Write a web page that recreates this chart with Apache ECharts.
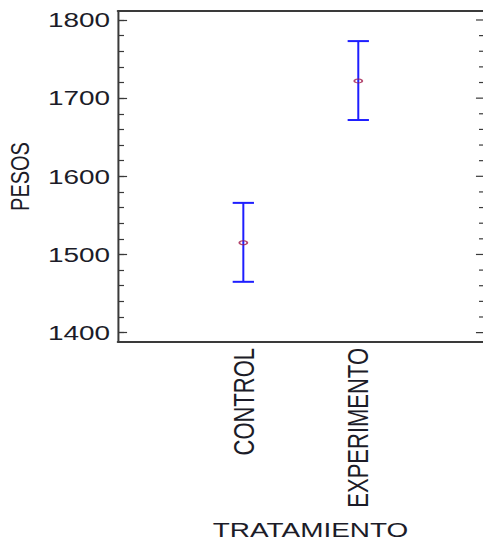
<!DOCTYPE html>
<html><head><meta charset="utf-8">
<script src="https://cdn.jsdelivr.net/npm/echarts@6/dist/echarts.min.js"></script>
<style>
html,body{margin:0;padding:0;background:#fff;overflow:hidden;width:483px;height:544px}
#c{width:363px;height:544px;transform:scaleX(1.3306);transform-origin:0 0}
</style></head><body><div id="c"></div>
<script>
const categories = ['CONTROL', 'EXPERIMENTO'];
const means = [1515, 1722];
const lower = [1465, 1672];
const upper = [1566, 1773];
const yTicks = [1400, 1500, 1600, 1700, 1800];
const yMinorTicks = [1400, 1420, 1440, 1460, 1480, 1500, 1520, 1540, 1560, 1580, 1600,
  1620, 1640, 1660, 1680, 1700, 1720, 1740, 1760, 1780, 1800];

const FONT = 'Liberation Sans, Arial, sans-serif';
const TXT = '#1c1c28';
const AX = '#3a3a3a';
const Y_MIN = 1388, Y_MAX = 1811.5;
const X_MIN = -0.09, X_MAX = 3.085;

const chart = echarts.init(document.getElementById('c'), null, {renderer: 'svg'});

function yAx(ticks, len, labels, line) {
  return {
    type: 'value', position: 'left', offset: 0, min: Y_MIN, max: Y_MAX,
    axisLine: {show: line, onZero: false, lineStyle: {color: AX, width: 1.5}},
    axisTick: {show: true, inside: true, length: len, customValues: ticks, lineStyle: {color: AX, width: 1.2}},
    axisLabel: labels ? {show: true, customValues: yTicks, margin: 6, fontSize: 21, color: TXT, fontFamily: FONT,
      formatter: v => String(v)} : {show: false},
    splitLine: {show: false}
  };
}

const y0 = yAx(yTicks, 6.8, true, true);
y0.name = 'PESOS';
y0.nameLocation = 'middle';
y0.nameGap = 60;
y0.nameTextStyle = {fontSize: 20, color: TXT, fontFamily: FONT};

chart.setOption({
  animation: false,
  backgroundColor: '#fff',
  grid: {left: 88.7, right: 0, top: 11, bottom: 202, containLabel: false, outerBoundsMode: 'none'},
  xAxis: [
    {
      type: 'value', position: 'bottom', offset: 0, min: X_MIN, max: X_MAX,
      axisLine: {show: true, onZero: false, lineStyle: {color: AX, width: 2}},
      axisTick: {show: false}, splitLine: {show: false},
      axisLabel: {
        show: true, customValues: [1, 2], rotate: 90, margin: 6,
        formatter: v => categories[Math.round(v) - 1] || '',
        fontSize: 22, color: TXT, fontFamily: FONT
      },
      name: 'TRATAMIENTO', nameLocation: 'middle', nameGap: 177,
      nameTextStyle: {fontSize: 21, color: TXT, fontFamily: FONT, padding: [0, 0, 0, 15]}
    },
    {
      type: 'value', position: 'top', offset: 0, min: X_MIN, max: X_MAX,
      axisLine: {show: true, onZero: false, lineStyle: {color: AX, width: 2}},
      axisTick: {show: false}, axisLabel: {show: false}, splitLine: {show: false}
    }
  ],
  yAxis: [
    y0,
    yAx(yMinorTicks, 4.5, false, false)
  ],
  series: [
    {
      // right-hand mirror ticks, placed with the y scale at the grid's right edge
      type: 'custom',
      xAxisIndex: 0, yAxisIndex: 0,
      silent: true,
      data: yMinorTicks.map(v => [X_MAX, v, yTicks.indexOf(v) >= 0 ? 1 : 0]),
      encode: {x: 0, y: 1},
      renderItem: function (params, api) {
        const p = api.coord([api.value(0), api.value(1)]);
        const len = api.value(2) ? 5.3 : 3;
        return {type: 'line', shape: {x1: p[0] - len, y1: p[1], x2: p[0], y2: p[1]},
          style: {stroke: AX, lineWidth: 1.2}};
      }
    },
    {
      type: 'custom',
      xAxisIndex: 0, yAxisIndex: 0,
      data: categories.map((c, i) => [i + 1, lower[i], upper[i]]),
      encode: {x: 0, y: [1, 2]},
      renderItem: function (params, api) {
        const x = api.value(0);
        const lo = api.coord([x, api.value(1)]);
        const hi = api.coord([x, api.value(2)]);
        const hw = 8;
        const st = {stroke: '#1e1eff', lineWidth: 2};
        return {
          type: 'group',
          children: [
            {type: 'line', shape: {x1: lo[0], y1: lo[1], x2: hi[0], y2: hi[1]}, style: {stroke: '#1e1eff', lineWidth: 1.5}},
            {type: 'line', shape: {x1: lo[0] - hw, y1: lo[1], x2: lo[0] + hw, y2: lo[1]}, style: st},
            {type: 'line', shape: {x1: hi[0] - hw, y1: hi[1], x2: hi[0] + hw, y2: hi[1]}, style: st}
          ]
        };
      }
    },
    {
      type: 'scatter',
      xAxisIndex: 0, yAxisIndex: 0,
      data: means.map((m, i) => [i + 1, m]),
      symbol: 'circle', symbolSize: [6, 4], z: 5,
      itemStyle: {color: 'rgba(255,255,255,0)', borderColor: '#a01848', borderWidth: 1.2}
    }
  ]
});
</script></body></html>
